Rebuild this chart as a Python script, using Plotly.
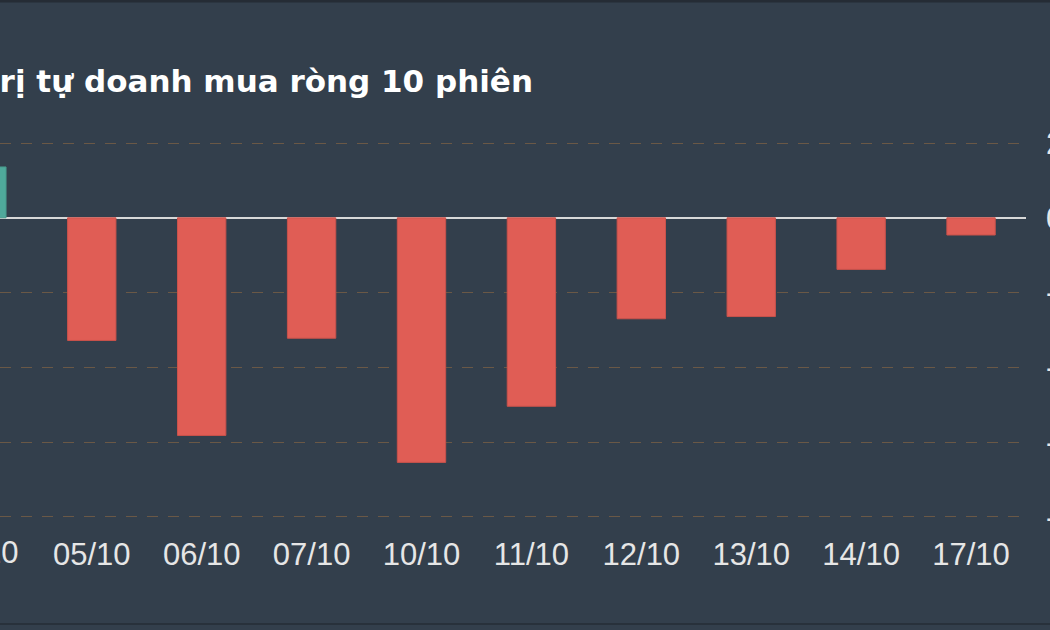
import plotly.graph_objects as go

# Giá trị tự doanh mua ròng (tỷ đồng) - 10 phiên
sessions = ["04/10", "05/10", "06/10", "07/10", "10/10", "11/10", "12/10", "13/10", "14/10", "17/10"]
net_buy = [136, -328, -582, -322, -654, -504, -270, -264, -138, -46]
y_ticks = [200, 0, -200, -400, -600, -800]
title_text = "Giá trị tự doanh mua ròng 10 phiên"

UP = "#4fa99b"
DOWN = "#e05d55"
BG = "#333f4c"
TXT = "#e6e6e6"
FONT = "Liberation Sans, Arial, sans-serif"
TITLE_FONT = "DejaVu Sans, sans-serif"

W, H = 1050, 630
M_L, M_R, M_T, M_B = 0, 24, 142, 112
PLOT_H = H - M_T - M_B

# the view starts part-way into the first session
x_range = [0.165, len(sessions) - 0.5]
span = x_range[1] - x_range[0]
# pad the value range a little so the edge gridlines (200, -800) still get drawn
y_range = [-802.7, 202.7]


def paper_x(pos):
    return (pos - x_range[0]) / span


def paper_y(px):
    # pixel row from the top of the figure -> paper y
    return (H - M_B - px) / PLOT_H


colors = [UP if v >= 0 else DOWN for v in net_buy]
outline = ["#48998c" if v >= 0 else "#c9524b" for v in net_buy]

fig = go.Figure()
fig.add_trace(go.Bar(
    x=list(range(len(sessions))),
    y=net_buy,
    marker=dict(color=colors, line=dict(color=outline, width=1)),
    hoverinfo="skip",
))

# label for the first (partly hidden) session
fig.add_annotation(
    x=paper_x(0), xref="paper", xanchor="center", xshift=-2,
    y=0, yref="paper", yanchor="middle", yshift=-34,
    showarrow=False, text=sessions[0],
    font=dict(family=FONT, size=31, color=TXT),
)

# title, starting just left of the full chart's plot area
fig.add_annotation(
    x=paper_x(-0.5), xref="paper", xanchor="left", xshift=-12,
    y=1, yref="paper", yanchor="middle", yshift=61,
    showarrow=False, text="<b>" + title_text + "</b>",
    font=dict(family=TITLE_FONT, size=31, color="#ffffff"),
)

fig.update_layout(
    width=W, height=H,
    margin=dict(l=M_L, r=M_R, t=M_T, b=M_B),
    paper_bgcolor=BG, plot_bgcolor=BG,
    showlegend=False,
    bargap=0.56,
    font=dict(family=FONT, size=31, color=TXT),
    xaxis=dict(
        range=x_range,
        tickmode="array",
        tickvals=list(range(len(sessions))),
        ticktext=sessions,
        showgrid=False, zeroline=False, showline=False,
        ticks="", ticklabelstandoff=15,
        tickfont=dict(size=31, color=TXT),
        automargin=False,
    ),
    yaxis=dict(
        side="right",
        range=y_range,
        tickmode="array",
        tickvals=y_ticks,
        ticktext=[str(v) for v in y_ticks],
        showgrid=True, gridcolor="#6a5846", griddash="11px,10px", gridwidth=1,
        zeroline=True, zerolinecolor="#d8d8d8", zerolinewidth=2,
        showline=False, ticks="",
        ticklabelstandoff=19,
        tickfont=dict(size=31, color=TXT),
        automargin=False,
    ),
    shapes=[
        dict(type="line", xref="paper", yref="paper",
             x0=-0.1, x1=1.1, y0=paper_y(624), y1=paper_y(624),
             line=dict(color="#28313b", width=2), layer="above"),
        dict(type="line", xref="paper", yref="paper",
             x0=-0.1, x1=1.1, y0=paper_y(1), y1=paper_y(1),
             line=dict(color="#252c35", width=3), layer="above"),
    ],
)

fig.write_html(
    "out.html",
    config={"displayModeBar": False},
    post_script="document.body.style.margin='0';document.body.style.overflow='hidden';",
)
